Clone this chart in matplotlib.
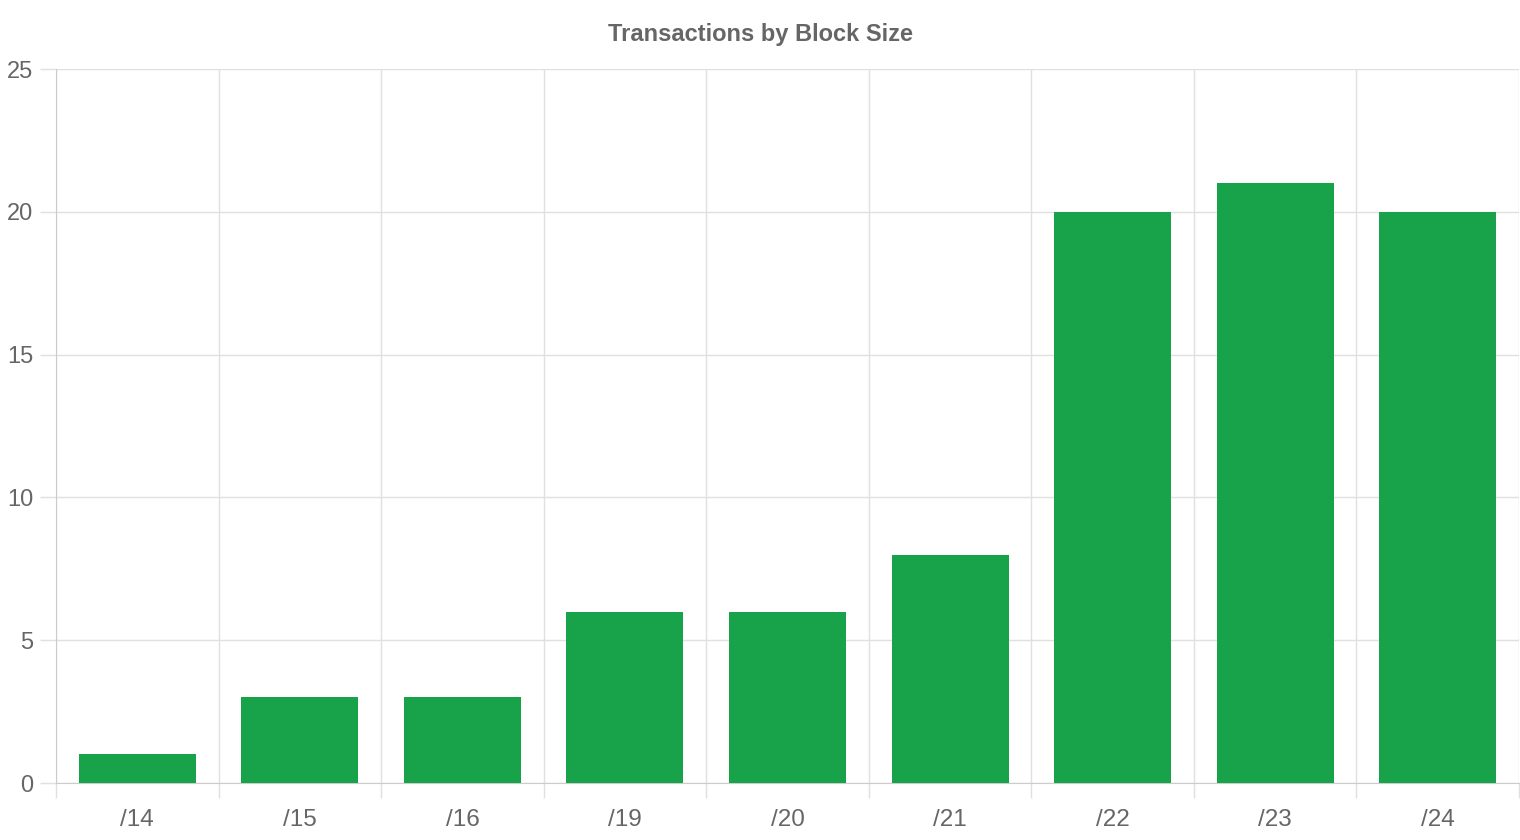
import matplotlib.pyplot as plt

# data
labels = ['/14', '/15', '/16', '/19', '/20', '/21', '/22', '/23', '/24']
counts = [1, 3, 3, 6, 6, 8, 20, 21, 20]

plt.rcParams['font.family'] = ['Liberation Sans', 'DejaVu Sans']

fig = plt.figure(figsize=(15.2, 8.4), dpi=100)
ax = fig.add_axes([56/1520, 1-783/840, (1519-56)/1520, (783-69)/840])

x = list(range(len(labels)))
ax.bar(x, counts, width=0.72, color='#18a34a', zorder=3)

ax.set_xlim(-0.5, len(labels)-0.5)
ax.set_ylim(0, 25)

# y axis (tick sizes in points; 1px = 0.72pt at dpi 100)
ax.set_yticks([0, 5, 10, 15, 20, 25])
ax.tick_params(axis='y', length=11.5, width=1, color='#e0e0e0', pad=5,
               labelsize=17, labelcolor='#666666')
ax.grid(axis='y', color='#e0e0e0', linewidth=1, zorder=0)

# x axis: labels at centre, grid lines between categories
ax.set_xticks(x)
ax.set_xticklabels(labels)
ax.tick_params(axis='x', length=0, pad=18.5, labelsize=17.5, labelcolor='#666666')
ax.set_xticks([i - 0.5 for i in range(len(labels)+1)], minor=True)
ax.tick_params(axis='x', which='minor', length=10.8, width=1, color='#e0e0e0')
ax.grid(axis='x', which='minor', color='#e0e0e0', linewidth=1, zorder=0)

for side in ['top', 'right']:
    ax.spines[side].set_visible(False)
ax.spines['left'].set_color('#cccccc')
ax.spines['bottom'].set_color('#cccccc')

fig.text(0.5, 1-34/840, 'Transactions by Block Size', ha='center', va='center',
         fontsize=17, fontweight='bold', color='#666666')

fig.savefig('out.png', dpi=100)
